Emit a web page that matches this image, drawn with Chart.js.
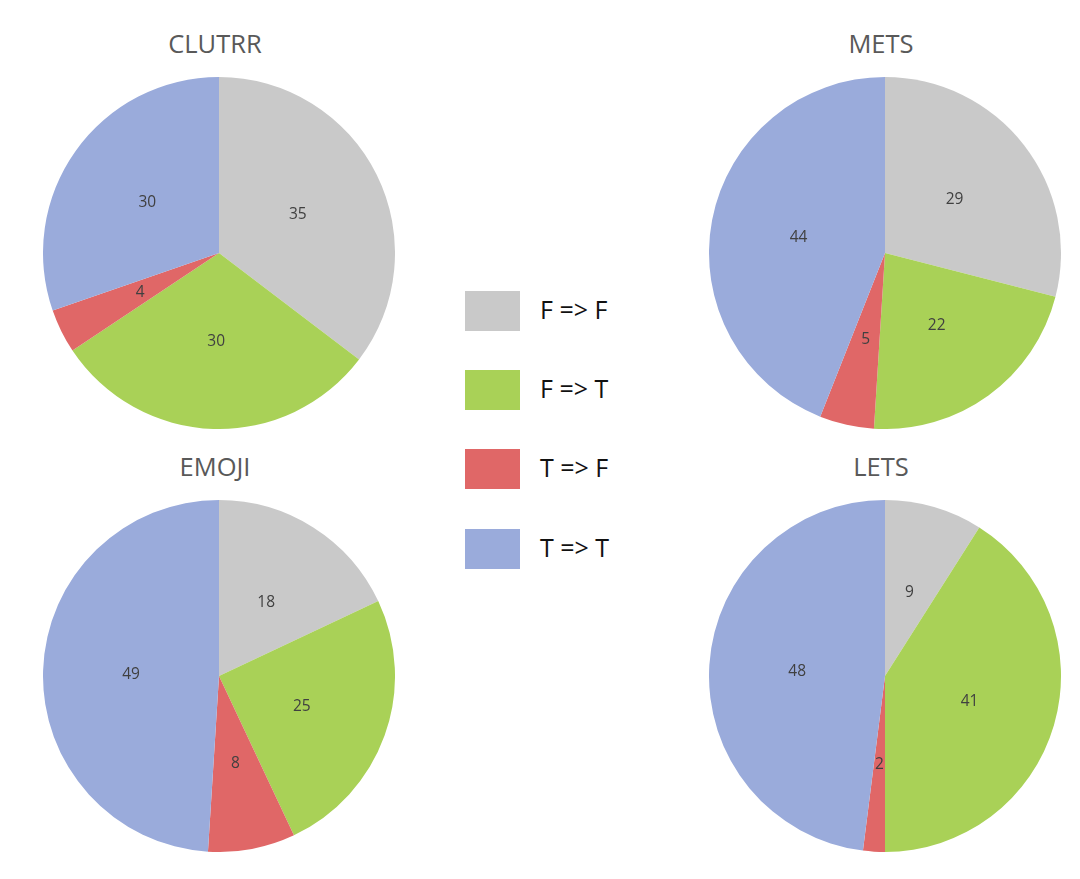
<!DOCTYPE html>
<html>
<head>
<meta charset="utf-8">
<script src="https://cdn.jsdelivr.net/npm/chart.js@4.4.1/dist/chart.umd.min.js"></script>
<style>
    body { margin: 0; background: #fff; font-family: "Open Sans", sans-serif; }
    #page { position: relative; width: 1080px; height: 879px; }
    .pie { position: absolute; }
    .title { position: absolute; width: 300px; text-align: center; font-size: 25.5px; color: #595959; }
    .legend-item { position: absolute; left: 465px; height: 40px; }
    .legend-item .swatch { position: absolute; left: 0; top: 0; width: 55px; height: 40px; }
    .legend-item .label { position: absolute; left: 75px; top: 1px; font-size: 25px; color: #111; white-space: nowrap; }
</style>
</head>
<body>
<div id="page"></div>
<script>
// Chart data
const categories = ['F => F', 'F => T', 'T => F', 'T => T'];
const colors = ['#C9C9C9', '#A9D157', '#E06767', '#9AABDB'];

const clutrrValues = [35, 30, 4, 30];
const metsValues = [29, 22, 5, 44];
const emojiValues = [18, 25, 8, 49];
const letsValues = [9, 41, 2, 48];

const panels = [
    { name: 'CLUTRR', values: clutrrValues, cx: 219, cy: 253 },
    { name: 'METS', values: metsValues, cx: 885, cy: 253 },
    { name: 'EMOJI', values: emojiValues, cx: 219, cy: 676 },
    { name: 'LETS', values: letsValues, cx: 885, cy: 676 }
];

const legendTops = [291, 370, 449, 529];
const RADIUS = 176;

// draws the value in the middle of each slice
const sliceLabels = {
    id: 'sliceLabels',
    afterDatasetsDraw(chart) {
        const ctx = chart.ctx;
        const meta = chart.getDatasetMeta(0);
        const values = chart.data.datasets[0].data;
        ctx.save();
        ctx.font = '15.5px "Open Sans", sans-serif';
        ctx.fillStyle = '#404040';
        ctx.textAlign = 'center';
        ctx.textBaseline = 'middle';
        meta.data.forEach((arc, i) => {
            const mid = (arc.startAngle + arc.endAngle) / 2;
            const r = arc.outerRadius * 0.5;
            ctx.fillText(values[i], arc.x + Math.cos(mid) * r, arc.y + Math.sin(mid) * r + 1);
        });
        ctx.restore();
    }
};

const page = document.getElementById('page');

panels.forEach(panel => {
    const title = document.createElement('div');
    title.className = 'title';
    title.textContent = panel.name;
    title.style.left = (panel.cx - 154) + 'px';
    title.style.top = (panel.cy - 227) + 'px';
    page.appendChild(title);

    const canvas = document.createElement('canvas');
    canvas.className = 'pie';
    canvas.width = RADIUS * 2;
    canvas.height = RADIUS * 2;
    canvas.style.left = (panel.cx - RADIUS) + 'px';
    canvas.style.top = (panel.cy - RADIUS) + 'px';
    page.appendChild(canvas);

    new Chart(canvas.getContext('2d'), {
        type: 'pie',
        data: {
            labels: categories,
            datasets: [{
                data: panel.values,
                backgroundColor: colors,
                borderWidth: 0
            }]
        },
        options: {
            responsive: false,
            devicePixelRatio: 1,
            animation: false,
            layout: { padding: 0 },
            plugins: {
                legend: { display: false },
                tooltip: { enabled: false }
            }
        },
        plugins: [sliceLabels]
    });
});

// legend in the middle
categories.forEach((cat, i) => {
    const item = document.createElement('div');
    item.className = 'legend-item';
    item.style.top = legendTops[i] + 'px';
    item.innerHTML = '<div class="swatch" style="background:' + colors[i] + '"></div>' +
        '<div class="label">' + cat + '</div>';
    page.appendChild(item);
});
</script>
</body>
</html>
